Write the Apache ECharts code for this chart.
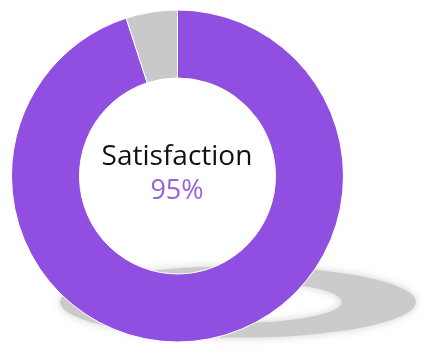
<!DOCTYPE html>
<html>
<head>
<meta charset="utf-8">
<style>html,body{margin:0;padding:0;background:#fff;}#c{width:444px;height:353px;}</style>
<script src="https://cdn.jsdelivr.net/npm/echarts@6/dist/echarts.min.js"></script>
</head>
<body>
<div id="c"></div>
<script>
const categories = ['Satisfied', 'Other'];
const values = [95, 5];
const colors = ['#914fe1', '#c9c9c9'];
const centerLabel = 'Satisfaction';

const chart = echarts.init(document.getElementById('c'), null, {renderer: 'canvas'});
chart.setOption({
  animation: false,
  backgroundColor: '#ffffff',
  graphic: [
    {
      type: 'ring', z: 0,
      x: 238, y: 302, scaleY: 0.2,
      shape: {cx: 0, cy: 0, r: 178, r0: 104},
      style: {fill: '#cbcbcb', shadowBlur: 8, shadowColor: 'rgba(205,205,205,0.9)'}
    },
    {
      type: 'text', z: 10,
      x: 177, y: 157,
      style: {text: centerLabel, fill: '#111111', font: '28px "Open Sans"', align: 'center', verticalAlign: 'middle'}
    },
    {
      type: 'text', z: 10,
      x: 177, y: 191,
      style: {text: values[0] + '%', fill: '#9a62d6', font: '27px "Open Sans"', align: 'center', verticalAlign: 'middle'}
    }
  ],
  series: [{
    type: 'pie',
    z: 2,
    center: [177.5, 176],
    radius: [98, 166],
    startAngle: 90,
    clockwise: true,
    silent: true,
    label: {show: false},
    labelLine: {show: false},
    itemStyle: {borderColor: '#ffffff', borderWidth: 1},
    data: categories.map((c, i) => ({name: c, value: values[i], itemStyle: {color: colors[i]}}))
  }]
});
</script>
</body>
</html>
